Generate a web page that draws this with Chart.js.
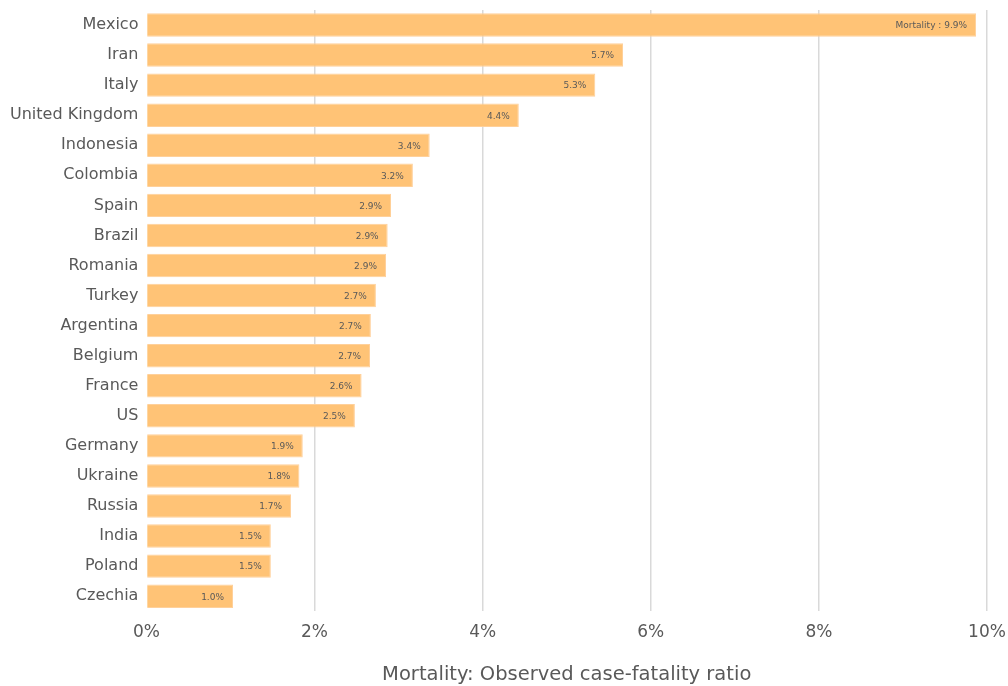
<!DOCTYPE html>
<html>
<head>
<meta charset="utf-8">
<script src="https://cdn.jsdelivr.net/npm/chart.js@4"></script>
<style>
  body { margin: 0; background: #fff; }
  #wrap { width: 1008px; height: 686px; }
</style>
</head>
<body>
<div id="wrap"><canvas id="mortalityChart" width="1008" height="686"></canvas></div>
<script>
const countries = ['Mexico', 'Iran', 'Italy', 'United Kingdom', 'Indonesia', 'Colombia', 'Spain', 'Brazil',
  'Romania', 'Turkey', 'Argentina', 'Belgium', 'France', 'US', 'Germany', 'Ukraine', 'Russia', 'India',
  'Poland', 'Czechia'];
const mortality = [9.87, 5.67, 5.34, 4.43, 3.37, 3.17, 2.91, 2.87, 2.85, 2.73, 2.67, 2.66, 2.56, 2.48,
  1.86, 1.82, 1.72, 1.48, 1.48, 1.03];
const xTicks = [0, 2, 4, 6, 8, 10];

const FONT = '"DejaVu Sans", Verdana, sans-serif';
const GREY = '#595959';

// small value labels drawn at the inner end of each bar
const barLabels = {
  id: 'barLabels',
  afterDatasetsDraw(chart) {
    const { ctx } = chart;
    const meta = chart.getDatasetMeta(0);
    ctx.save();
    ctx.font = '9px ' + FONT;
    ctx.fillStyle = GREY;
    ctx.textAlign = 'right';
    ctx.textBaseline = 'middle';
    meta.data.forEach((bar, i) => {
      const v = mortality[i].toFixed(1) + '%';
      const text = i === 0 ? 'Mortality : ' + v : v;
      ctx.fillText(text, bar.x - 9, bar.y + 1);
    });
    ctx.restore();
  }
};

const ctx = document.getElementById('mortalityChart').getContext('2d');
new Chart(ctx, {
  type: 'bar',
  data: {
    labels: countries,
    datasets: [{
      data: mortality,
      backgroundColor: '#ffc376',
      borderColor: '#ffd09a',
      borderWidth: 1,
      barPercentage: 0.78,
      categoryPercentage: 1.0
    }]
  },
  options: {
    indexAxis: 'y',
    responsive: false,
    animation: false,
    layout: { padding: { top: 10, right: 21, bottom: -1, left: 2 } },
    plugins: {
      legend: { display: false },
      tooltip: { enabled: false }
    },
    scales: {
      x: {
        min: 0,
        max: 10,
        afterBuildTicks: axis => { axis.ticks = xTicks.map(v => ({ value: v })); },
        afterFit: axis => { axis.paddingRight = 0; },
        grid: {
          color: ctx => ctx.tick && ctx.tick.value === 0 ? 'rgba(0,0,0,0)' : '#d9d9d9',
          lineWidth: 1.5,
          drawTicks: false
        },
        border: { display: false },
        ticks: {
          color: GREY,
          font: { family: FONT, size: 17 },
          padding: 11,
          callback: v => v + '%'
        },
        title: {
          display: true,
          text: 'Mortality: Observed case-fatality ratio',
          color: GREY,
          font: { family: FONT, size: 19.5 },
          padding: { top: 10, bottom: 0 }
        }
      },
      y: {
        afterFit: axis => { axis.paddingTop = 0; axis.paddingBottom = 0; },
        grid: { display: false, drawTicks: false },
        border: { display: false },
        ticks: {
          color: GREY,
          font: { family: FONT, size: 16 },
          padding: 8,
          autoSkip: false
        }
      }
    }
  },
  plugins: [barLabels]
});
</script>
</body>
</html>
